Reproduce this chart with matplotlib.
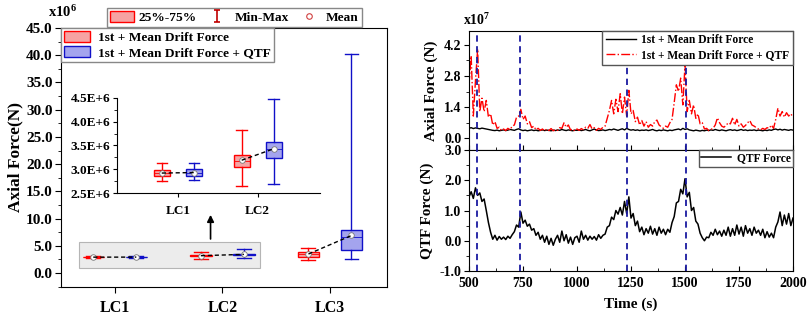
import matplotlib
matplotlib.use("Agg")
import matplotlib.pyplot as plt
from matplotlib.patches import Rectangle, Patch
from matplotlib.lines import Line2D
from matplotlib.path import Path
from matplotlib.ticker import MultipleLocator

plt.rcParams['font.family'] = ['Liberation Serif', 'DejaVu Serif']
plt.rcParams['font.weight'] = 'bold'
plt.rcParams['axes.labelweight'] = 'bold'
plt.rcParams['mathtext.fontset'] = 'custom'
plt.rcParams['mathtext.rm'] = 'Liberation Serif:bold'
plt.rcParams['mathtext.default'] = 'rm'

# ---- box chart data (x10^6 N) ----
lc_labels = ['LC1', 'LC2', 'LC3']
drift_min = [2.76, 2.65, 2.40]
drift_q1 = [2.86, 3.05, 3.00]
drift_med = [2.92, 3.17, 3.50]
drift_q3 = [2.99, 3.29, 3.90]
drift_max = [3.13, 3.83, 4.60]
drift_mean = [2.92, 3.19, 3.50]
qtf_min = [2.77, 2.68, 2.60]
qtf_q1 = [2.86, 3.23, 4.20]
qtf_med = [2.92, 3.42, 6.60]
qtf_q3 = [3.00, 3.58, 7.90]
qtf_max = [3.14, 4.47, 40.30]
qtf_mean = [2.93, 3.43, 6.90]
inset_ticklabels = ['2.5E+6', '3.0E+6', '3.5E+6', '4.0E+6', '4.5E+6']

# ---- time series data (10 s steps) ----
time = list(range(500, 2001, 10))
axial_drift = [0.45, 0.48, 0.44, 0.47, 0.45, 0.43, 0.46, 0.44, 0.42, 0.40, 0.38,
               0.36, 0.35, 0.37, 0.34, 0.36, 0.38, 0.35, 0.37, 0.40, 0.38,
               0.36, 0.40, 0.43, 0.38, 0.35, 0.37, 0.34, 0.36, 0.38, 0.35,
               0.37, 0.34, 0.36, 0.38, 0.35, 0.37, 0.36, 0.34, 0.37, 0.35,
               0.38, 0.36, 0.40, 0.37, 0.35, 0.38, 0.36, 0.34, 0.37, 0.36,
               0.38, 0.35, 0.37, 0.40, 0.36, 0.34, 0.38, 0.42, 0.37, 0.35,
               0.36, 0.38, 0.35, 0.37, 0.40, 0.38, 0.42, 0.39, 0.36, 0.40,
               0.43, 0.38, 0.45, 0.40, 0.37, 0.39, 0.36, 0.38, 0.35, 0.37,
               0.36, 0.38, 0.35, 0.37, 0.40, 0.36, 0.34, 0.37, 0.35, 0.38,
               0.36, 0.34, 0.37, 0.35, 0.38, 0.40, 0.42, 0.38, 0.45, 0.40,
               0.43, 0.38, 0.36, 0.34, 0.37, 0.35, 0.33, 0.36, 0.34, 0.37,
               0.35, 0.38, 0.36, 0.40, 0.37, 0.35, 0.38, 0.36, 0.34, 0.37,
               0.39, 0.36, 0.38, 0.35, 0.37, 0.40, 0.36, 0.38, 0.35, 0.37,
               0.36, 0.38, 0.35, 0.37, 0.36, 0.34, 0.37, 0.35, 0.38, 0.36,
               0.40, 0.42, 0.38, 0.41, 0.37, 0.40, 0.38, 0.36, 0.39, 0.37]
axial_qtf = [2.40, 3.70, 1.00, 2.60, 4.00, 1.20, 1.80, 1.20, 1.70, 0.95, 1.10,
             0.60, 0.75, 0.45, 0.50, 0.35, 0.42, 0.35, 0.45, 0.38, 0.55,
             0.60, 0.95, 1.00, 1.30, 0.85, 1.00, 0.65, 0.75, 0.48, 0.55,
             0.38, 0.45, 0.36, 0.42, 0.33, 0.42, 0.35, 0.44, 0.34, 0.40,
             0.36, 0.48, 0.45, 0.70, 0.50, 0.60, 0.38, 0.42, 0.33, 0.42,
             0.36, 0.44, 0.38, 0.50, 0.45, 0.62, 0.42, 0.48, 0.36, 0.45,
             0.40, 0.50, 0.55, 0.90, 1.25, 1.70, 1.10, 1.75, 1.20, 2.00,
             1.10, 1.85, 1.00, 2.15, 1.10, 1.25, 0.75, 0.95, 0.60, 0.80,
             0.55, 0.75, 0.50, 0.62, 0.55, 0.75, 0.82, 0.60, 0.52, 0.45,
             0.55, 0.50, 0.70, 0.85, 1.60, 2.40, 2.10, 2.70, 1.50, 3.30,
             1.20, 1.70, 1.10, 1.50, 0.90, 1.10, 0.65, 0.70, 0.42, 0.45,
             0.35, 0.40, 0.45, 0.60, 0.92, 0.70, 0.55, 0.50, 0.58, 0.70,
             0.65, 0.90, 0.60, 0.85, 0.55, 0.65, 0.50, 0.58, 0.70, 0.80,
             0.60, 0.55, 0.48, 0.42, 0.38, 0.45, 0.40, 0.48, 0.45, 0.60,
             0.45, 0.85, 1.35, 1.00, 1.20, 0.95, 1.15, 1.00, 1.10, 0.95]
qtf_force = [1.45, 1.62, 1.40, 1.75, 1.50, 1.58, 1.30, 1.38, 1.00, 0.60, 0.28,
             0.05, 0.18, 0.02, 0.14, 0.05, 0.12, 0.04, 0.15, 0.08, 0.20,
             0.30, 0.52, 0.45, 0.95, 0.58, 0.68, 0.48, 0.55, 0.35, 0.40,
             0.18, 0.28, 0.05, 0.18, -0.05, 0.15, -0.12, 0.08, -0.15, 0.05,
             0.18, -0.05, 0.32, 0.00, 0.20, -0.08, 0.12, -0.12, 0.10, 0.15,
             -0.05, 0.32, 0.05, 0.18, 0.02, 0.15, 0.05, 0.14, 0.02, 0.20,
             0.08, 0.18, 0.22, 0.45, 0.50, 0.78, 0.70, 1.00, 0.88, 1.10,
             0.85, 1.30, 0.90, 1.45, 0.75, 0.90, 0.50, 0.65, 0.30, 0.45,
             0.20, 0.40, 0.25, 0.48, 0.22, 0.40, 0.18, 0.45, 0.25, 0.38,
             0.20, 0.38, 0.28, 0.60, 0.80, 1.25, 1.30, 1.70, 1.55, 2.05,
             1.45, 1.60, 1.00, 1.10, 0.65, 0.55, 0.25, 0.10, 0.00, 0.12,
             0.10, 0.28, 0.18, 0.38, 0.20, 0.32, 0.15, 0.35, 0.18, 0.45,
             0.15, 0.40, 0.18, 0.52, 0.22, 0.45, 0.15, 0.50, 0.25, 0.40,
             0.18, 0.45, 0.25, 0.35, 0.18, 0.38, 0.10, 0.30, 0.12, 0.25,
             0.10, 0.45, 0.62, 0.95, 0.50, 0.85, 0.55, 0.90, 0.50, 0.75]
event_times = [538, 735, 1230, 1503]

W, H = 809, 318
fig = plt.figure(figsize=(W / 100, H / 100), dpi=100)


def px_axes(x0, y0, x1, y1):
    return fig.add_axes([x0 / W, 1 - y1 / H, (x1 - x0) / W, (y1 - y0) / H])


def stats(i, lo, q1, med, q3, hi, mean):
    return dict(whislo=lo[i], q1=q1[i], med=med[i], q3=q3[i], whishi=hi[i], mean=mean[i])


def draw_boxes(ax, idx, off, width, capw, lw):
    pos = [i + 1 for i in idx]
    red = [stats(i, drift_min, drift_q1, drift_med, drift_q3, drift_max, drift_mean) for i in idx]
    blue = [stats(i, qtf_min, qtf_q1, qtf_med, qtf_q3, qtf_max, qtf_mean) for i in idx]
    for st, c, fc, d in [(red, 'red', '#f6a3a3', -off), (blue, '#1010c8', '#a4a4ee', off)]:
        ax.bxp(st, positions=[p + d for p in pos], widths=width, patch_artist=True,
               showmeans=True, showfliers=False, capwidths=capw,
               boxprops=dict(facecolor=fc, edgecolor=c, linewidth=lw),
               whiskerprops=dict(color=c, linewidth=lw),
               capprops=dict(color=c, linewidth=lw),
               medianprops=dict(color=c, linewidth=0.6),
               meanprops=dict(marker='o', markerfacecolor='white', markeredgecolor='#777777',
                              markersize=4, markeredgewidth=0.6),
               manage_ticks=False)
    for p, i in zip(pos, idx):
        ax.plot([p - off, p + off], [drift_mean[i], qtf_mean[i]], 'k--', lw=1, zorder=4,
                dashes=(3, 2))


# ---------------- left: box chart ----------------
ax = px_axes(61, 28, 387, 287)
ax.add_patch(Rectangle((0.67, 0.9), 1.68, 4.8, facecolor='#ececec', edgecolor='#b5b5b5',
                       lw=0.8, zorder=0.5))
draw_boxes(ax, [0, 1, 2], 0.2, 0.2, 0.13, 1.0)
ax.annotate('', xy=(1.89, 11.2), xytext=(1.89, 5.75),
            arrowprops=dict(arrowstyle='-|>', color='black', lw=1.2, mutation_scale=10))
ax.set_xlim(0.5, 3.53)
ax.set_xticks([1, 2, 3])
ax.set_xticklabels(lc_labels, fontsize=11.5)
ax.yaxis.set_major_locator(MultipleLocator(5))
ax.yaxis.set_minor_locator(MultipleLocator(2.5))
ax.set_ylim(-2.56, 45)
ax.set_yticks([0, 5, 10, 15, 20, 25, 30, 35, 40, 45])
ax.set_yticklabels([f'{v:.1f}' for v in ax.get_yticks()], fontsize=11)
ax.tick_params(axis='x', length=4, pad=5)
ax.tick_params(axis='y', which='major', length=4, pad=2)
ax.tick_params(axis='y', which='minor', length=2.5)
ax.set_ylim(-2.56, 45)
ax.set_ylabel('Axial Force(N)', fontsize=12.5, labelpad=2)
fig.text(48 / W, 1 - 12 / H, r'x10$^{6}$', fontsize=10.5, va='center', ha='left')

leg1 = ax.legend(handles=[Patch(facecolor='#f6a3a3', edgecolor='red', lw=1),
                          Patch(facecolor='#a4a4ee', edgecolor='#1010c8', lw=1)],
                 labels=['1st + Mean Drift Force', '1st + Mean Drift Force + QTF'],
                 loc='upper left', bbox_to_anchor=(0, 1), borderaxespad=0, fontsize=9.6,
                 fancybox=False, edgecolor='#888888', framealpha=1, handlelength=2.0,
                 handleheight=0.9, borderpad=0.2, labelspacing=0.15, handletextpad=0.6)
ax.add_artist(leg1)
imark = Path([(-0.5, 1), (0.5, 1), (0, 1), (0, -1), (-0.5, -1), (0.5, -1)],
             [Path.MOVETO, Path.LINETO, Path.MOVETO, Path.LINETO, Path.MOVETO, Path.LINETO])
leg2 = ax.legend(handles=[Patch(facecolor='#f6a3a3', edgecolor='red', lw=1),
                          Line2D([], [], color='#c00000', marker=imark, markersize=9,
                                 linestyle='none', markeredgewidth=1.2),
                          Line2D([], [], color='#d04040', marker='o', markerfacecolor='white',
                                 markersize=4, linestyle='none', markeredgewidth=0.8)],
                 labels=['25%-75%', 'Min-Max', 'Mean'], ncol=3,
                 loc='upper left', bbox_to_anchor=(0.141, 1.077), borderaxespad=0,
                 fontsize=9.6, fancybox=False, edgecolor='#888888', framealpha=1,
                 handlelength=1.8, handleheight=0.9, borderpad=0.2, columnspacing=0.6,
                 handletextpad=0.4)
leg2.set_clip_on(False)

# ---------------- inset ----------------
ins = px_axes(117, 98, 320, 193)
draw_boxes(ins, [0, 1], 0.2, 0.2, 0.13, 1.0)
ins.set_xlim(0.24, 2.78)
ins.set_ylim(2.5, 4.5)
ins.set_xticks([1, 2])
ins.set_xticklabels(lc_labels[:2], fontsize=9.5)
ins.set_yticks([2.5, 3.0, 3.5, 4.0, 4.5])
ins.set_yticklabels(inset_ticklabels, fontsize=9.5)
ins.yaxis.set_minor_locator(MultipleLocator(0.25))
ins.tick_params(axis='x', length=3, pad=6)
ins.tick_params(axis='y', which='major', length=3, pad=2)
ins.tick_params(axis='y', which='minor', length=2)
ins.spines['top'].set_visible(False)
ins.spines['right'].set_visible(False)
ins.patch.set_alpha(0)

# ---------------- right: time series ----------------
ax1 = px_axes(469, 31, 793, 150)
ax2 = px_axes(469, 150, 793, 271)
ax1.plot(time, axial_drift, color='black', lw=1.0, label='1st + Mean Drift Force')
ax1.plot(time, axial_qtf, color='red', lw=1.0, linestyle='-.',
         label='1st + Mean Drift Force + QTF')
ax2.plot(time, qtf_force, color='black', lw=1.1, label='QTF Force')
for a in (ax1, ax2):
    for t in event_times:
        a.axvline(t, color='#1a1aa0', lw=1.3, linestyle='--', dashes=(3.5, 2.5), zorder=3)
    a.set_xlim(500, 2000)
    a.xaxis.set_major_locator(MultipleLocator(250))
    a.xaxis.set_minor_locator(MultipleLocator(125))
    a.tick_params(axis='x', which='both', direction='in', labelsize=10)
    a.tick_params(axis='x', which='major', length=3.5)
    a.tick_params(axis='x', which='minor', length=2)
    a.tick_params(axis='y', which='major', length=3.5, labelsize=10, pad=2)
    a.tick_params(axis='y', which='minor', length=2)

ax1.set_ylim(-0.52, 4.81)
ax1.set_yticks([0.0, 1.4, 2.8, 4.2])
ax1.set_yticklabels(['0.0', '1.4', '2.8', '4.2'])
ax1.yaxis.set_minor_locator(MultipleLocator(0.7))
ax1.tick_params(axis='x', labelbottom=False)
ax1.set_ylabel('Axial Force (N)', fontsize=11, labelpad=4)
fig.text(463 / W, 1 - 20 / H, r'x10$^{7}$', fontsize=10, va='center', ha='left')
ax1.legend(loc='upper right', borderaxespad=0, fontsize=8.3, fancybox=False,
           edgecolor='#555555', framealpha=1, handlelength=2.6, borderpad=0.3,
           labelspacing=0.25, handletextpad=0.5)

ax2.set_ylim(-1.0, 3.0)
ax2.set_yticks([-1.0, 0.0, 1.0, 2.0, 3.0])
ax2.set_yticklabels(['-1.0', '0.0', '1.0', '2.0', '3.0'])
ax2.yaxis.set_minor_locator(MultipleLocator(0.5))
ax2.tick_params(axis='x', pad=4)
ax2.set_ylabel('QTF Force (N)', fontsize=11, labelpad=4)
ax2.set_xlabel('Time (s)', fontsize=11, labelpad=6)
ax2.legend(loc='upper right', borderaxespad=0, fontsize=8.3, fancybox=False,
           edgecolor='#555555', framealpha=1, handlelength=2.6, borderpad=0.2,
           handletextpad=0.5)

fig.savefig('out.png', dpi=100)
